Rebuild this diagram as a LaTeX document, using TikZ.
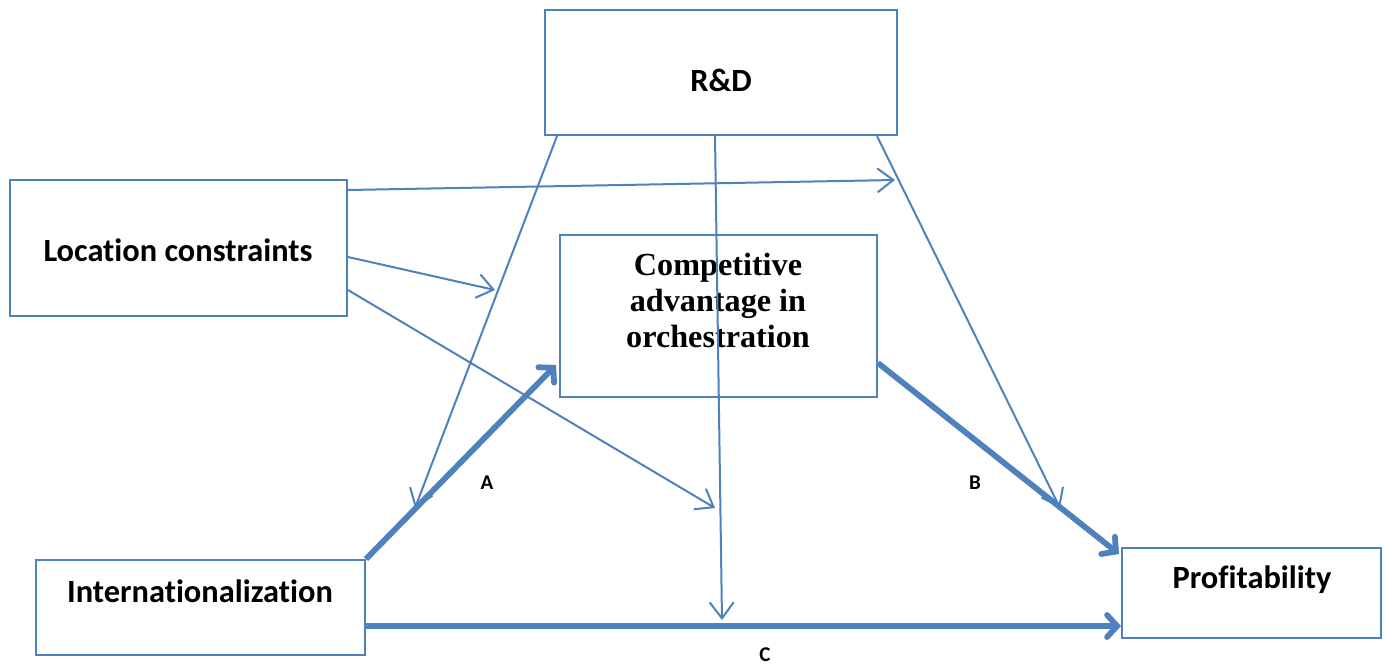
\documentclass[tikz,border=0pt]{standalone}
\usepackage{fontspec}
\setmainfont{Carlito}[Ligatures={NoCommon}]
\newfontfamily\serifbold{Liberation Serif}
\usepackage{tikz}
\usetikzlibrary{arrows.meta, positioning, calc}
\definecolor{linkblue}{RGB}{79,129,189}

\begin{document}
\begin{tikzpicture}[x=0.5pt,y=-0.5pt,
    box/.style={draw=linkblue,line width=1pt,rectangle,inner sep=0pt},
    lbl/.style={font=\fontsize{16.2}{19}\selectfont\bfseries},
    thin/.style={draw=linkblue,line width=1pt,-{Straight Barb[length=8pt,width=12pt]}},
    thick/.style={draw=linkblue,line width=2.9pt,-{Straight Barb[length=5pt,width=11pt,line cap=round]}},
    edgetag/.style={font=\fontsize{10.5}{12}\selectfont\bfseries,inner sep=0pt}]
        \useasboundingbox (0,0) rectangle (1386,666);
        % boxes
        \node[box,minimum width=176pt,minimum height=62.5pt](rd) at (721,72.5) {};
        \node[lbl] (rdtext) at (721,80) {R\&D};
        \node[box,minimum width=168.5pt,minimum height=68pt](loc) at (178.5,248) {};
        \node[lbl] (loctext) at (178,250) {Location constraints};
        \node[box,minimum width=158.5pt,minimum height=81pt](comp) at (718.5,316) {};
        \node[align=center,font=\fontsize{16.1}{18}\serifbold\bfseries] (comptext) at (718,300)
            {Competitive\\advantage in\\orchestration};
        \node[box,minimum width=164.5pt,minimum height=47.5pt](intl) at (200.5,607.5) {};
        \node[lbl] (intltext) at (200,591) {Internationalization};
        \node[box,minimum width=129.5pt,minimum height=45pt](prof) at (1251.5,593) {};
        \node[lbl] (proftext) at (1252,580) {Profitability};
        % free ends of the thin links
        \coordinate (e1) at (895,180);
        \coordinate (e2) at (495,290);
        \coordinate (e3) at (715,508);
        \coordinate (e4) at (415,508);
        \coordinate (e5) at (722,620);
        \coordinate (e6) at (1060,508);
        % links
        \draw[thin] ($(loc.east)+(0,-58)$) -- (e1);
        \draw[thin] ($(loc.east)+(0,9)$) -- (e2);
        \draw[thin] ($(loc.east)+(0,42)$) -- (e3);
        \draw[thin] ($(rd.south)+(-164,0)$) -- (e4);
        \draw[thin] ($(rd.south)+(-6,0)$) -- (e5);
        \draw[thin] ($(rd.south)+(156,0)$) -- (e6);
        \draw[thick] (intl.north east) -- ($(comp.west)+(-3,49)$);
        \draw[thick] ($(comp.east)+(0,47)$) -- ($(prof.north west)+(-2,7)$);
        \draw[thick] ($(intl.east)+(0,18.5)$) -- ($(prof.west)+(0,33)$);
        % path labels
        \node[edgetag] (A) at (487,483) {A};
        \node[edgetag] (B) at (975,483) {B};
        \node[edgetag] (C) at (765,655) {C};
\end{tikzpicture}
\end{document}
